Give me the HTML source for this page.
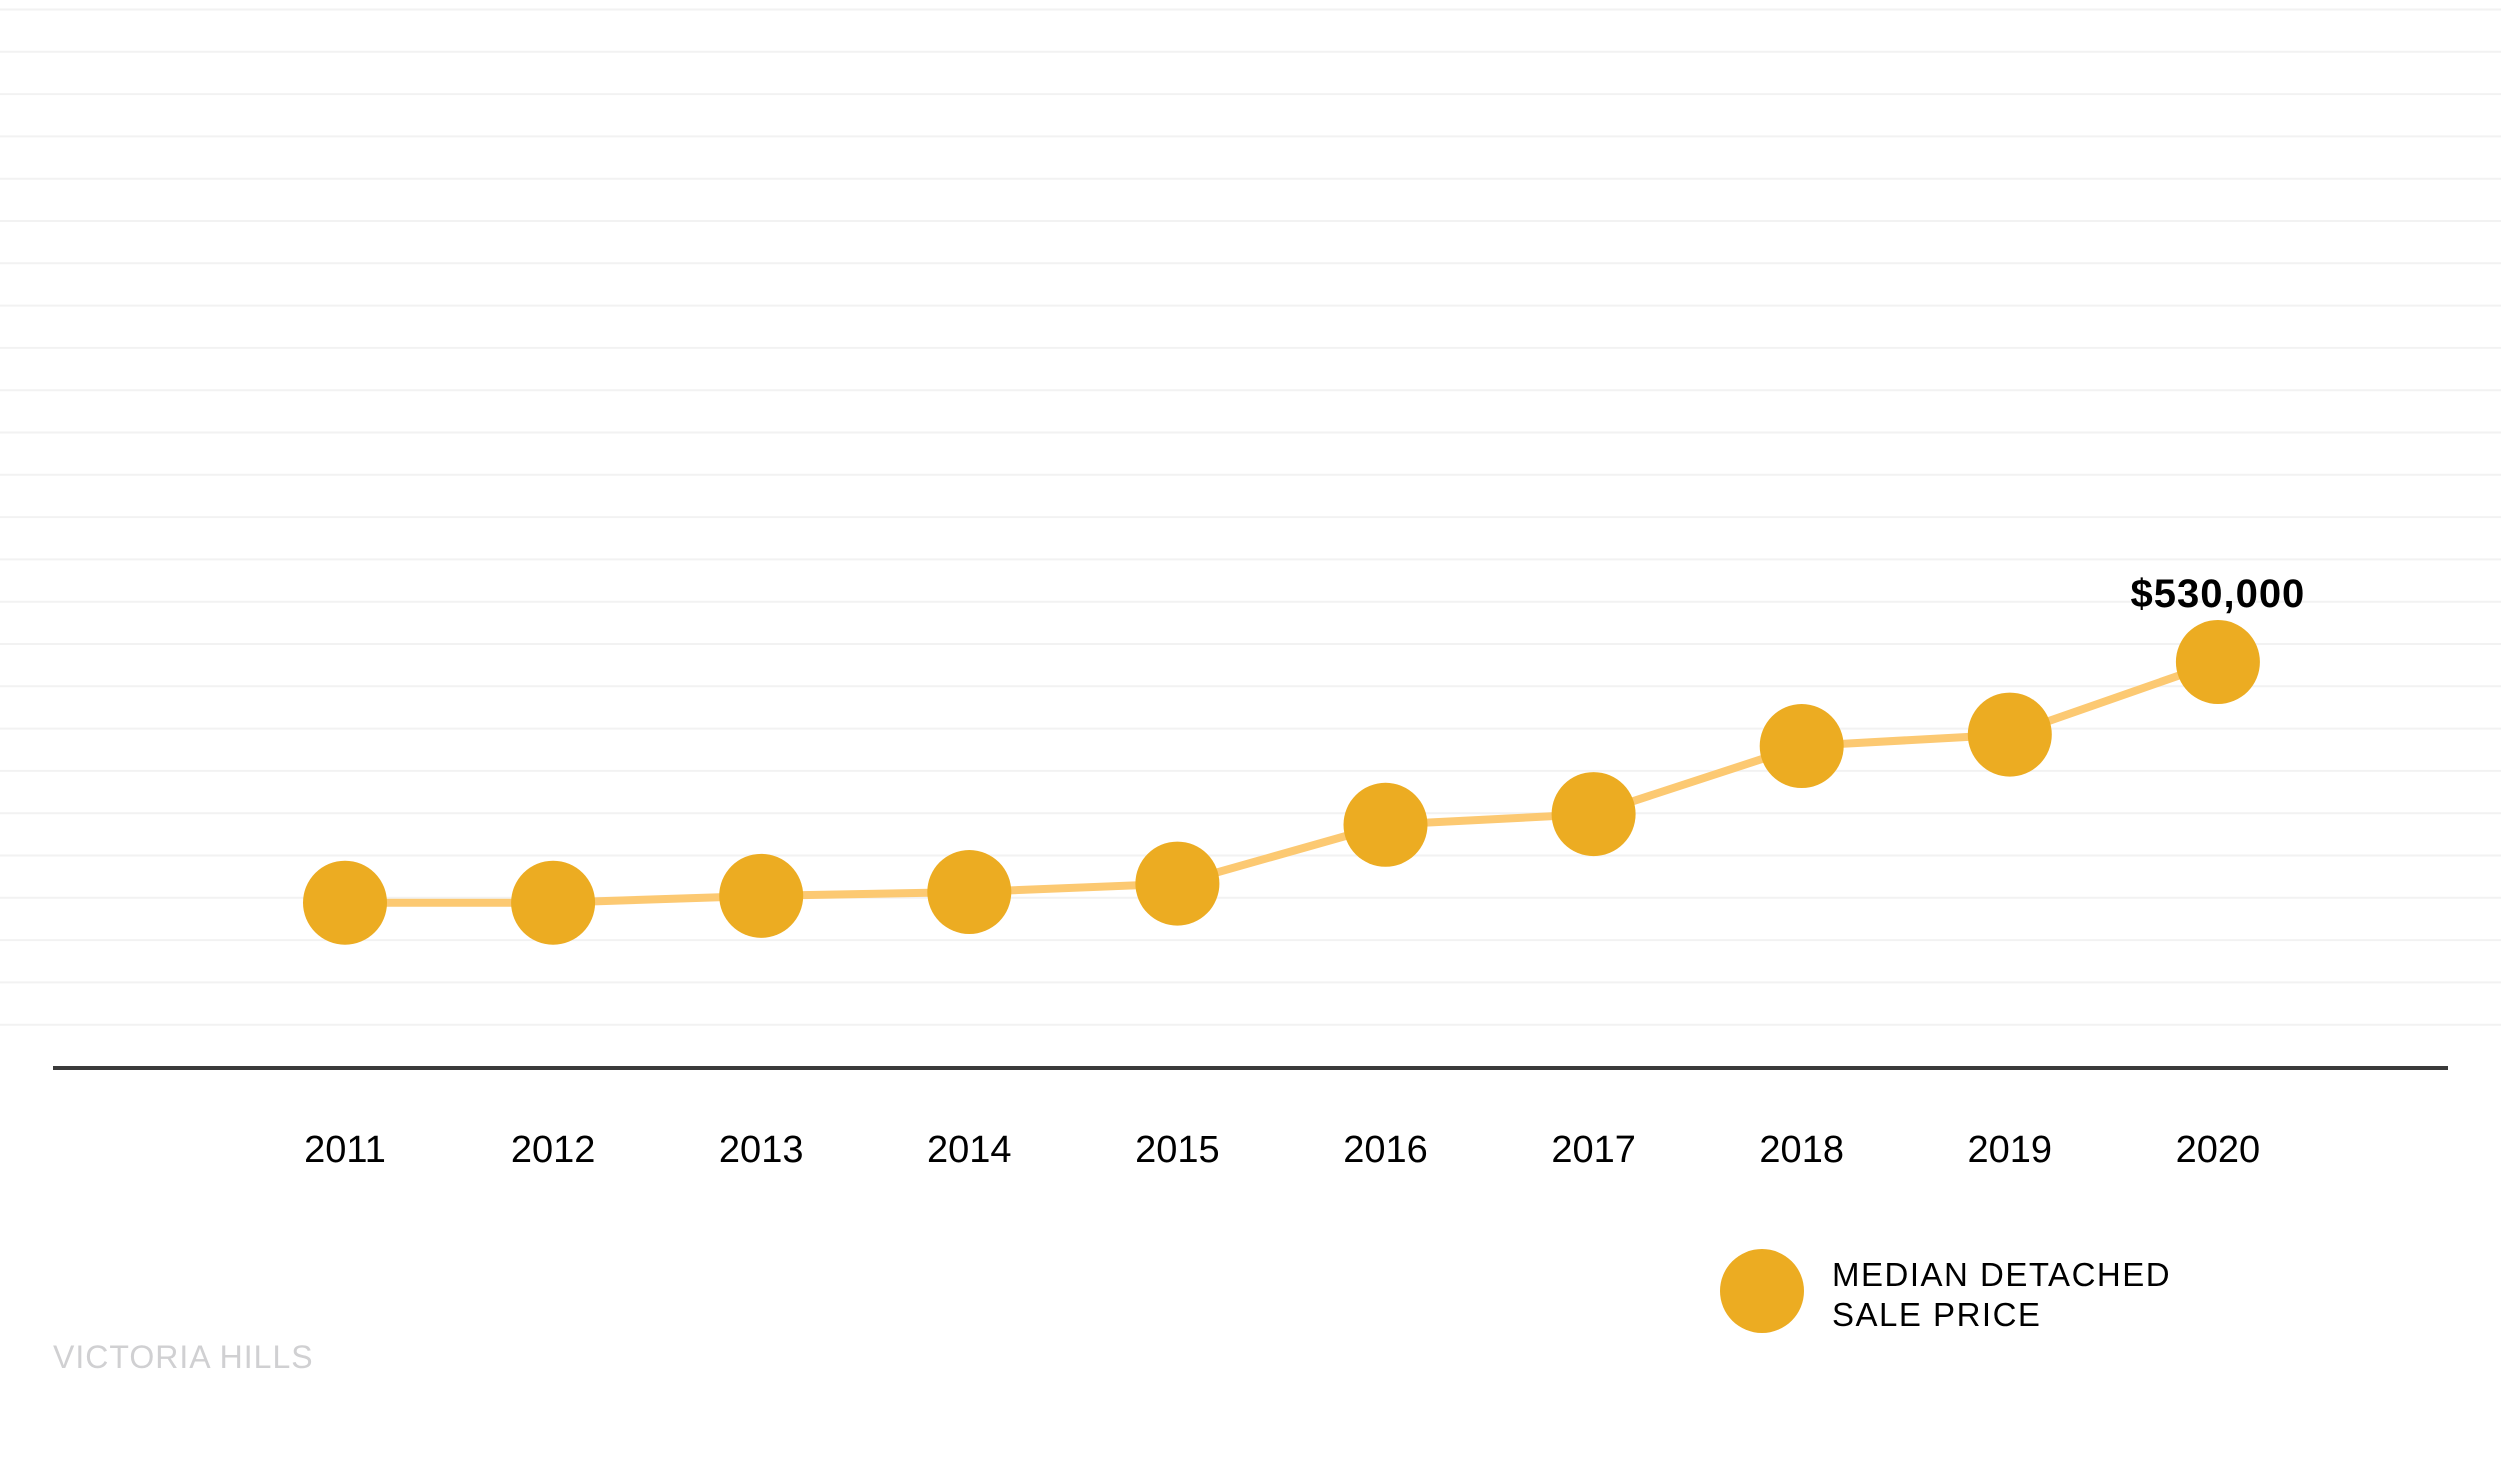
<!DOCTYPE html>
<html><head><meta charset="utf-8"><style>
html,body{margin:0;padding:0;background:#fff;}
svg{display:block;font-family:"Liberation Sans",sans-serif;}
</style></head><body>
<svg id="chart" width="2501" height="1459" viewBox="0 0 2501 1459" xmlns="http://www.w3.org/2000/svg">
<g id="grid"></g>
<line x1="53" x2="2448" y1="1068" y2="1068" stroke="#3a3a3a" stroke-width="4"/>
<g id="xlabels"></g>
<path id="series-line" fill="none" stroke="#fcc972" stroke-width="8" stroke-linejoin="round"/>
<g id="points"></g>
<text id="last-label" font-size="40" font-weight="bold" text-anchor="middle" fill="#000" letter-spacing="1"></text>
<g>
<circle cx="1762" cy="1291" r="42" fill="#ecac22"/>
<text x="1832" font-size="33" fill="#000" letter-spacing="1.5"><tspan x="1832" y="1286">MEDIAN DETACHED</tspan><tspan x="1832" y="1326">SALE PRICE</tspan></text>
</g>
<text x="53" y="1368" font-size="32" fill="#d0d0d2" letter-spacing="1">VICTORIA HILLS</text>
</svg>
<script>
const categories = ["2011","2012","2013","2014","2015","2016","2017","2018","2019","2020"];
const values = [215000,215000,224000,229000,240000,317000,331000,420000,435000,530000];
const labelText = "$530,000";

const NS = "http://www.w3.org/2000/svg";
const x = i => 345 + i * 208.1;
const y = v => 1067 - v * (405 / 530000);

const grid = document.getElementById('grid');
for (let k = 1; k <= 25; k++) {
  const gy = 1067 - k * 42.3;
  const l = document.createElementNS(NS, 'line');
  
  
  l.setAttribute('x1', 0); l.setAttribute('x2', 2501);
  l.setAttribute('y1', gy); l.setAttribute('y2', gy);
  l.setAttribute('stroke', '#f2f2f2'); l.setAttribute('stroke-width', 2);
  grid.appendChild(l);
}

const xl = document.getElementById('xlabels');
categories.forEach((c, i) => {
  const t = document.createElementNS(NS, 'text');
  
  
  t.setAttribute('x', x(i)); t.setAttribute('y', 1162);
  t.setAttribute('font-size', 38); t.setAttribute('text-anchor', 'middle');
  t.setAttribute('fill', '#000');
  t.textContent = c;
  xl.appendChild(t);
});

document.getElementById('series-line').setAttribute('d',
  values.map((v, i) => (i ? 'L' : 'M') + x(i) + ' ' + y(v)).join(' '));

const pts = document.getElementById('points');
values.forEach((v, i) => {
  const c = document.createElementNS(NS, 'circle');
  
  
  c.setAttribute('cx', x(i)); c.setAttribute('cy', y(v));
  c.setAttribute('r', 42); c.setAttribute('fill', '#ecac22');
  pts.appendChild(c);
});

const last = values.length - 1;
const lbl = document.getElementById('last-label');
lbl.setAttribute('x', x(last));
lbl.setAttribute('y', y(values[last]) - 55);
lbl.textContent = labelText;
</script>
</body></html>
